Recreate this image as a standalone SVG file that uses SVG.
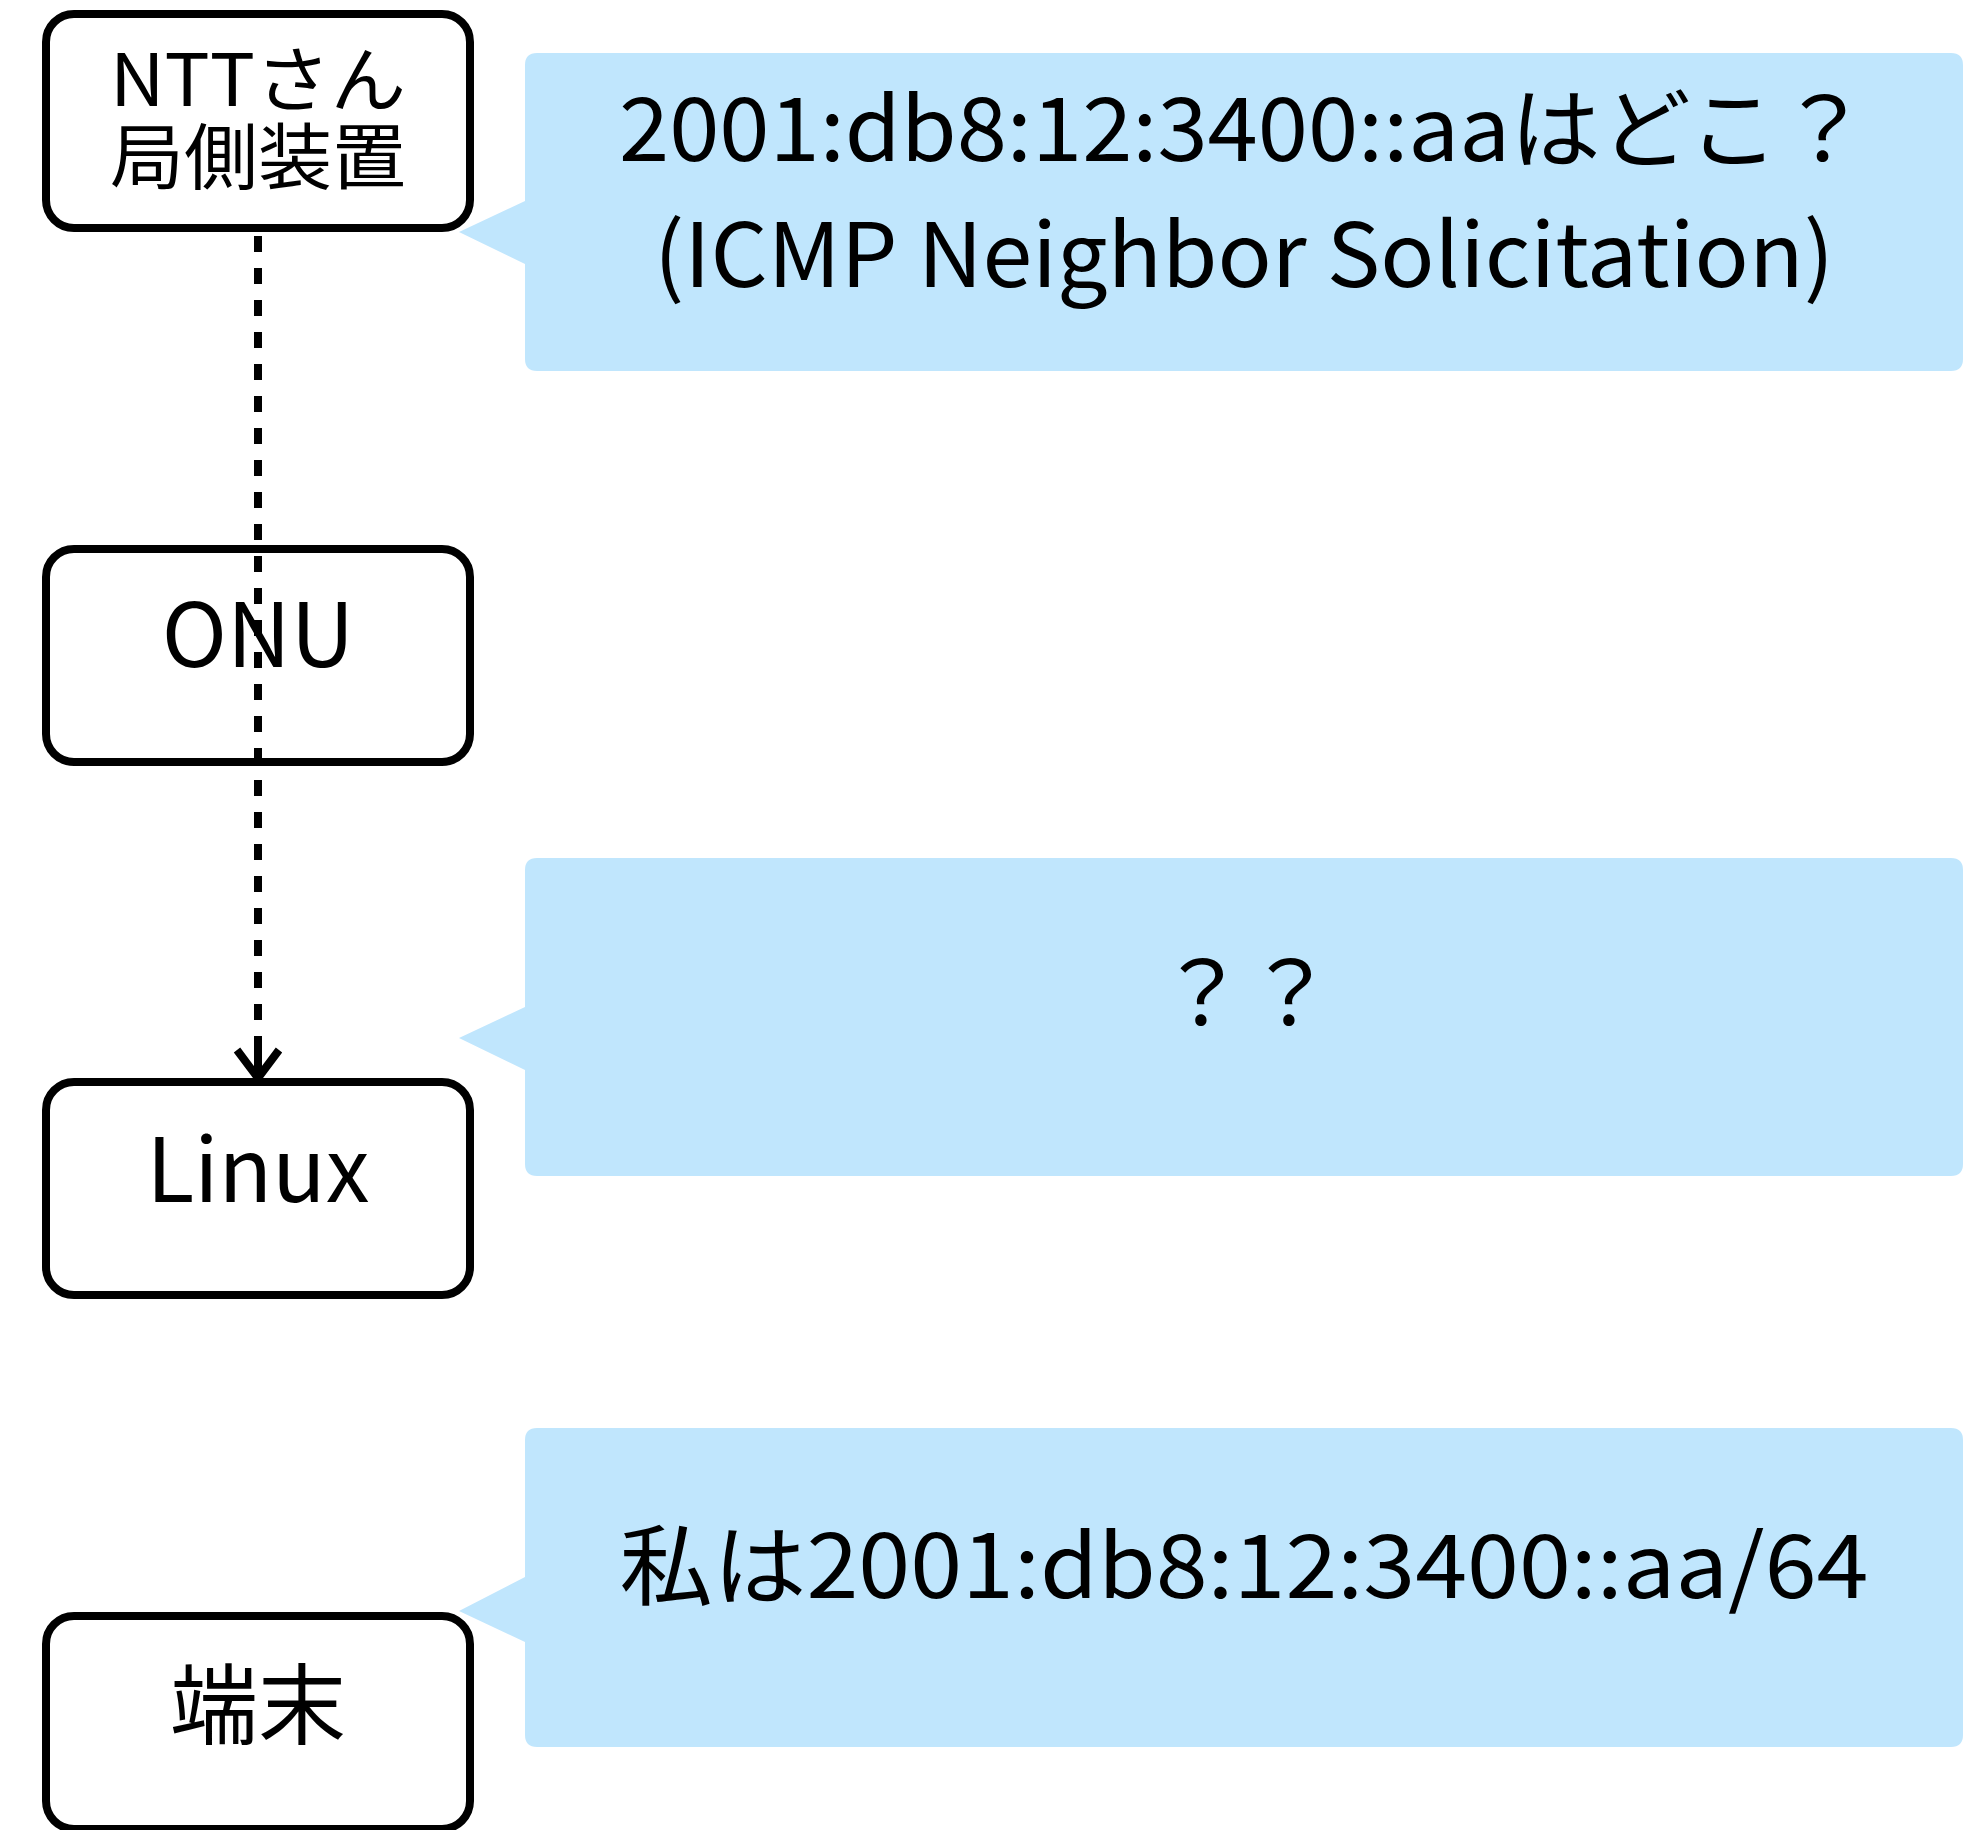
<svg xmlns="http://www.w3.org/2000/svg" width="1973" height="1830" viewBox="0 0 1973 1830">
<style>
.box{fill:#fff;stroke:#000;stroke-width:8}
.bubble{fill:#c0e6fd}
.t{font-family:"Noto Sans CJK JP","Noto Sans",sans-serif;fill:#000;text-anchor:middle}
.nt{font-size:72px}
.bt{font-size:88px}
.conn{stroke:#000;stroke-width:8;fill:none}
</style>
<rect width="1973" height="1830" fill="#fff"/>
<g id="bubble1">
<path class="bubble" d="M537,53 H1951 Q1963,53 1963,65 V359 Q1963,371 1951,371 H537 Q525,371 525,359 V264 L459,232 L525,201 V65 Q525,53 537,53 Z"/>
<text class="t bt" x="1244" y="161" textLength="1250" lengthAdjust="spacingAndGlyphs">2001:db8:12:3400::aaはどこ？</text>
<text class="t bt" x="1244" y="287" textLength="1180" lengthAdjust="spacingAndGlyphs">(ICMP Neighbor Solicitation)</text>
</g>
<g id="bubble2">
<path class="bubble" d="M537,858 H1951 Q1963,858 1963,870 V1164 Q1963,1176 1951,1176 H537 Q525,1176 525,1164 V1070 L459,1038 L525,1007 V870 Q525,858 537,858 Z"/>
<text class="t bt" x="1246" y="1025">？？</text>
</g>
<g id="bubble3">
<path class="bubble" d="M537,1428 H1951 Q1963,1428 1963,1440 V1735 Q1963,1747 1951,1747 H537 Q525,1747 525,1735 V1642 L459,1611 L525,1577 V1440 Q525,1428 537,1428 Z"/>
<text class="t bt" x="1244" y="1598" textLength="1249" lengthAdjust="spacingAndGlyphs">私は2001:db8:12:3400::aa/64</text>
</g>
<g id="node-ntt">
<rect class="box" x="46" y="14" width="424" height="214" rx="28"/>
<text class="t nt" x="258" y="106" textLength="296" lengthAdjust="spacingAndGlyphs">NTTさん</text>
<text class="t nt" x="258" y="183" textLength="296" lengthAdjust="spacingAndGlyphs">局側装置</text>
</g>
<g id="node-onu">
<rect class="box" x="46" y="549" width="424" height="213" rx="28"/>
<text class="t bt" x="258" y="667">ONU</text>
</g>
<g id="node-linux">
<rect class="box" x="46" y="1082" width="424" height="213" rx="28"/>
<text class="t bt" x="258" y="1202">Linux</text>
</g>
<g id="node-terminal">
<rect class="box" x="46" y="1616" width="424" height="213" rx="28"/>
<text class="t bt" x="258" y="1737">端末</text>
</g>
<g id="connectors">
<line class="conn" x1="258" y1="236" x2="258" y2="1036" stroke-dasharray="16,16"/>
<line class="conn" x1="258" y1="1036" x2="258" y2="1076"/>
<path class="conn" d="M237,1050 L258,1078 L279,1050"/>
</g>
</svg>
